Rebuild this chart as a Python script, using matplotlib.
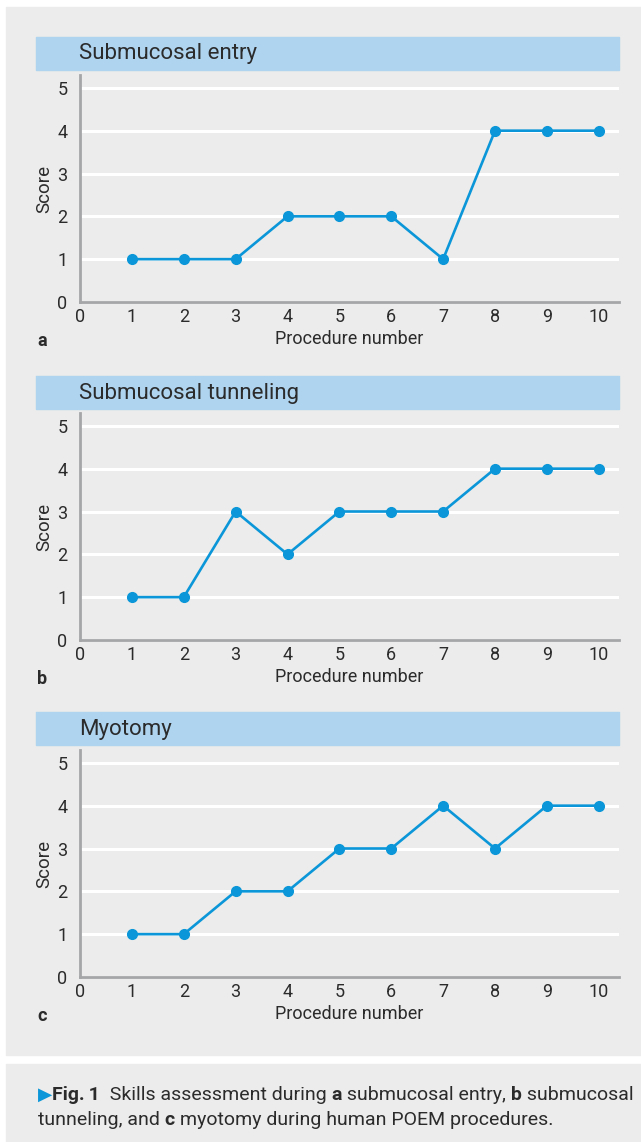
import matplotlib
matplotlib.use("Agg")
import matplotlib.pyplot as plt
from matplotlib.patches import Rectangle

plt.rcParams['font.family'] = ['Roboto', 'DejaVu Sans']

procedures = [1, 2, 3, 4, 5, 6, 7, 8, 9, 10]
entry = [1, 1, 1, 2, 2, 2, 1, 4, 4, 4]
tunneling = [1, 1, 3, 2, 3, 3, 3, 4, 4, 4]
myotomy = [1, 1, 2, 2, 3, 3, 4, 3, 4, 4]
titles = ["Submucosal entry", "Submucosal tunneling", "Myotomy"]
letters = ["a", "b", "c"]
xticks = list(range(0, 11))
yticks = list(range(0, 6))

W, H = 641, 1142
BG = "#ebeceb"
BAR = "#aed4f0"
LINE = "#0a96d8"
TXT = "#2b2b2b"
SPINE = "#a4a6a8"

fig = plt.figure(figsize=(W / 100, H / 100), dpi=100)
fig.patch.set_facecolor("white")


def box(x0, y0, x1, y1, color):
    # pixel coords measured from the top-left corner
    r = Rectangle((x0 / W, 1 - y1 / H), (x1 - x0) / W, (y1 - y0) / H,
                  transform=fig.transFigure, color=color, zorder=-5)
    fig.add_artist(r)


box(6, 7, W, 1055, BG)
box(6, 1064, W, H, BG)

series = [entry, tunneling, myotomy]
bar_tops = [37, 376, 712]
axis_bottoms = [302, 640, 977]

for i in range(3):
    bt = bar_tops[i]
    box(36, bt, 619, bt + 33, BAR)
    fig.text(79 / W, 1 - (bt + 17) / H, titles[i], fontsize=16, color=TXT,
             va="center", ha="left")

    yb = axis_bottoms[i]
    ax = fig.add_axes([80 / W, 1 - yb / H, (619 - 80) / W, 227 / H])
    ax.set_facecolor("none")
    ax.set_xlim(0, 10.39)
    ax.set_ylim(0, 5.3)
    ax.set_xticks(xticks)
    ax.set_yticks(yticks)
    ax.tick_params(length=0, labelsize=13, labelcolor=TXT)
    ax.tick_params(axis="y", pad=9)
    ax.tick_params(axis="x", pad=4)
    for s in ["top", "right"]:
        ax.spines[s].set_visible(False)
    for s in ["left", "bottom"]:
        ax.spines[s].set_color(SPINE)
        ax.spines[s].set_linewidth(2)
    ax.grid(axis="y", color="white", linewidth=2.2)
    ax.set_axisbelow(True)
    ax.plot(procedures, series[i], color=LINE, linewidth=1.9, marker="o",
            markersize=7, clip_on=False, zorder=3)
    ax.set_ylabel("Score", fontsize=13.5, color=TXT, labelpad=3)
    ax.set_xlabel("Procedure number", fontsize=13, color=TXT, labelpad=3)
    fig.text(37 / W, 1 - (yb + 39) / H, letters[i], fontsize=13, color=TXT,
             fontweight="bold", va="center", ha="left")

# caption with mixed weights, pieces laid out one after another
fig.canvas.draw()
renderer = fig.canvas.get_renderer()
cap_size = 14
lines = [
    [("\u25B6", "normal", LINE), ("Fig.\u20091", "bold", TXT), ("  Skills assessment during ", "normal", TXT),
     ("a", "bold", TXT), (" submucosal entry, ", "normal", TXT), ("b", "bold", TXT),
     (" submucosal", "normal", TXT)],
    [("tunneling, and ", "normal", TXT), ("c", "bold", TXT),
     (" myotomy during human POEM procedures.", "normal", TXT)],
]
line_y = [1095, 1120]
for li, parts in enumerate(lines):
    x = 38
    for txt, weight, col in parts:
        fs = cap_size * 0.95 if txt == "\u25B6" else cap_size
        t = fig.text(x / W, 1 - line_y[li] / H, txt, fontsize=fs, fontweight=weight,
                     color=col, va="center", ha="left")
        bb = t.get_window_extent(renderer=renderer)
        x += bb.width

fig.savefig("out.png", dpi=100, facecolor=fig.get_facecolor())
